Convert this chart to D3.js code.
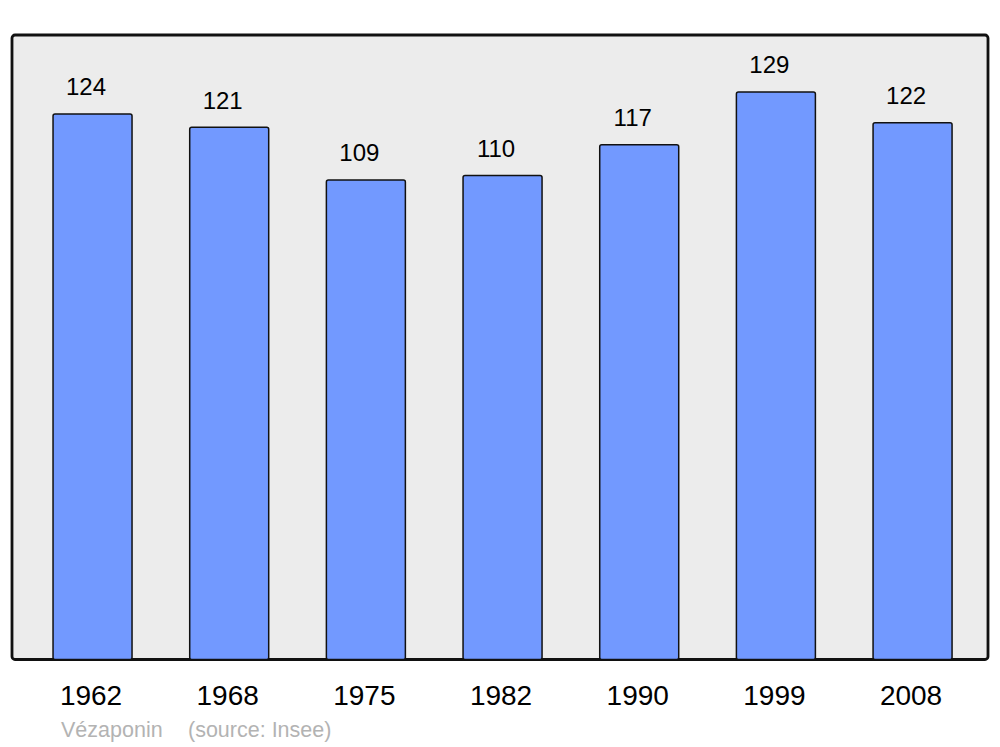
<!DOCTYPE html>
<html><head><meta charset="utf-8">
<script src="https://cdn.jsdelivr.net/npm/d3@7"></script>
<style>body{margin:0;background:#fff}svg{display:block}</style>
</head><body>
<script>
const years = ["1962","1968","1975","1982","1990","1999","2008"];
const population = [124,121,109,110,117,129,122];
const author = "Vézaponin";
const source = "(source: Insee)";

const W = 1000, H = 747;
const svg = d3.select("body").append("svg").attr("width", W).attr("height", H);
const font = "'Liberation Sans', Arial, sans-serif";

const frame = {x0: 12, y0: 35, x1: 988, y1: 659.5};
svg.append("rect").attr("x", frame.x0).attr("y", frame.y0)
  .attr("width", frame.x1 - frame.x0).attr("height", frame.y1 - frame.y0)
  .attr("rx", 3).attr("fill", "#ececec").attr("stroke", "#111").attr("stroke-width", 2.8);

const x = d3.scaleBand().domain(years).range([24.2, 980.9]).paddingInner(0.422).paddingOuter(0.211);
const y = d3.scaleLinear().domain([0, 142]).range([659.5, 34.8]);

const g = svg.append("g");
g.selectAll("rect.bar").data(population).enter().append("rect")
  .attr("class", "bar")
  .attr("x", (d, i) => x(years[i]))
  .attr("y", d => y(d))
  .attr("width", x.bandwidth())
  .attr("height", d => y(0) - y(d))
  .attr("rx", 2)
  .attr("fill", "#7299ff").attr("stroke", "#111").attr("stroke-width", 1.5);

g.selectAll("text.val").data(population).enter().append("text")
  .attr("x", (d, i) => x(years[i]) + x.bandwidth() / 2 - 6.5)
  .attr("y", d => y(d) - 18.5)
  .attr("text-anchor", "middle").attr("font-family", font).attr("font-size", 24)
  .attr("fill", "#000").text(d => d);

g.selectAll("text.yr").data(years).enter().append("text")
  .attr("x", d => x(d) + x.bandwidth() / 2 - 1.5)
  .attr("y", 705)
  .attr("text-anchor", "middle").attr("font-family", font).attr("font-size", 28)
  .attr("fill", "#000").text(d => d);

svg.append("text").attr("x", 61).attr("y", 737).attr("font-family", font).attr("font-size", 21.5)
  .attr("fill", "#b3b3b3").text(author);
svg.append("text").attr("x", 188).attr("y", 737).attr("font-family", font).attr("font-size", 21.5)
  .attr("fill", "#b3b3b3").text(source);
</script>
</body></html>
